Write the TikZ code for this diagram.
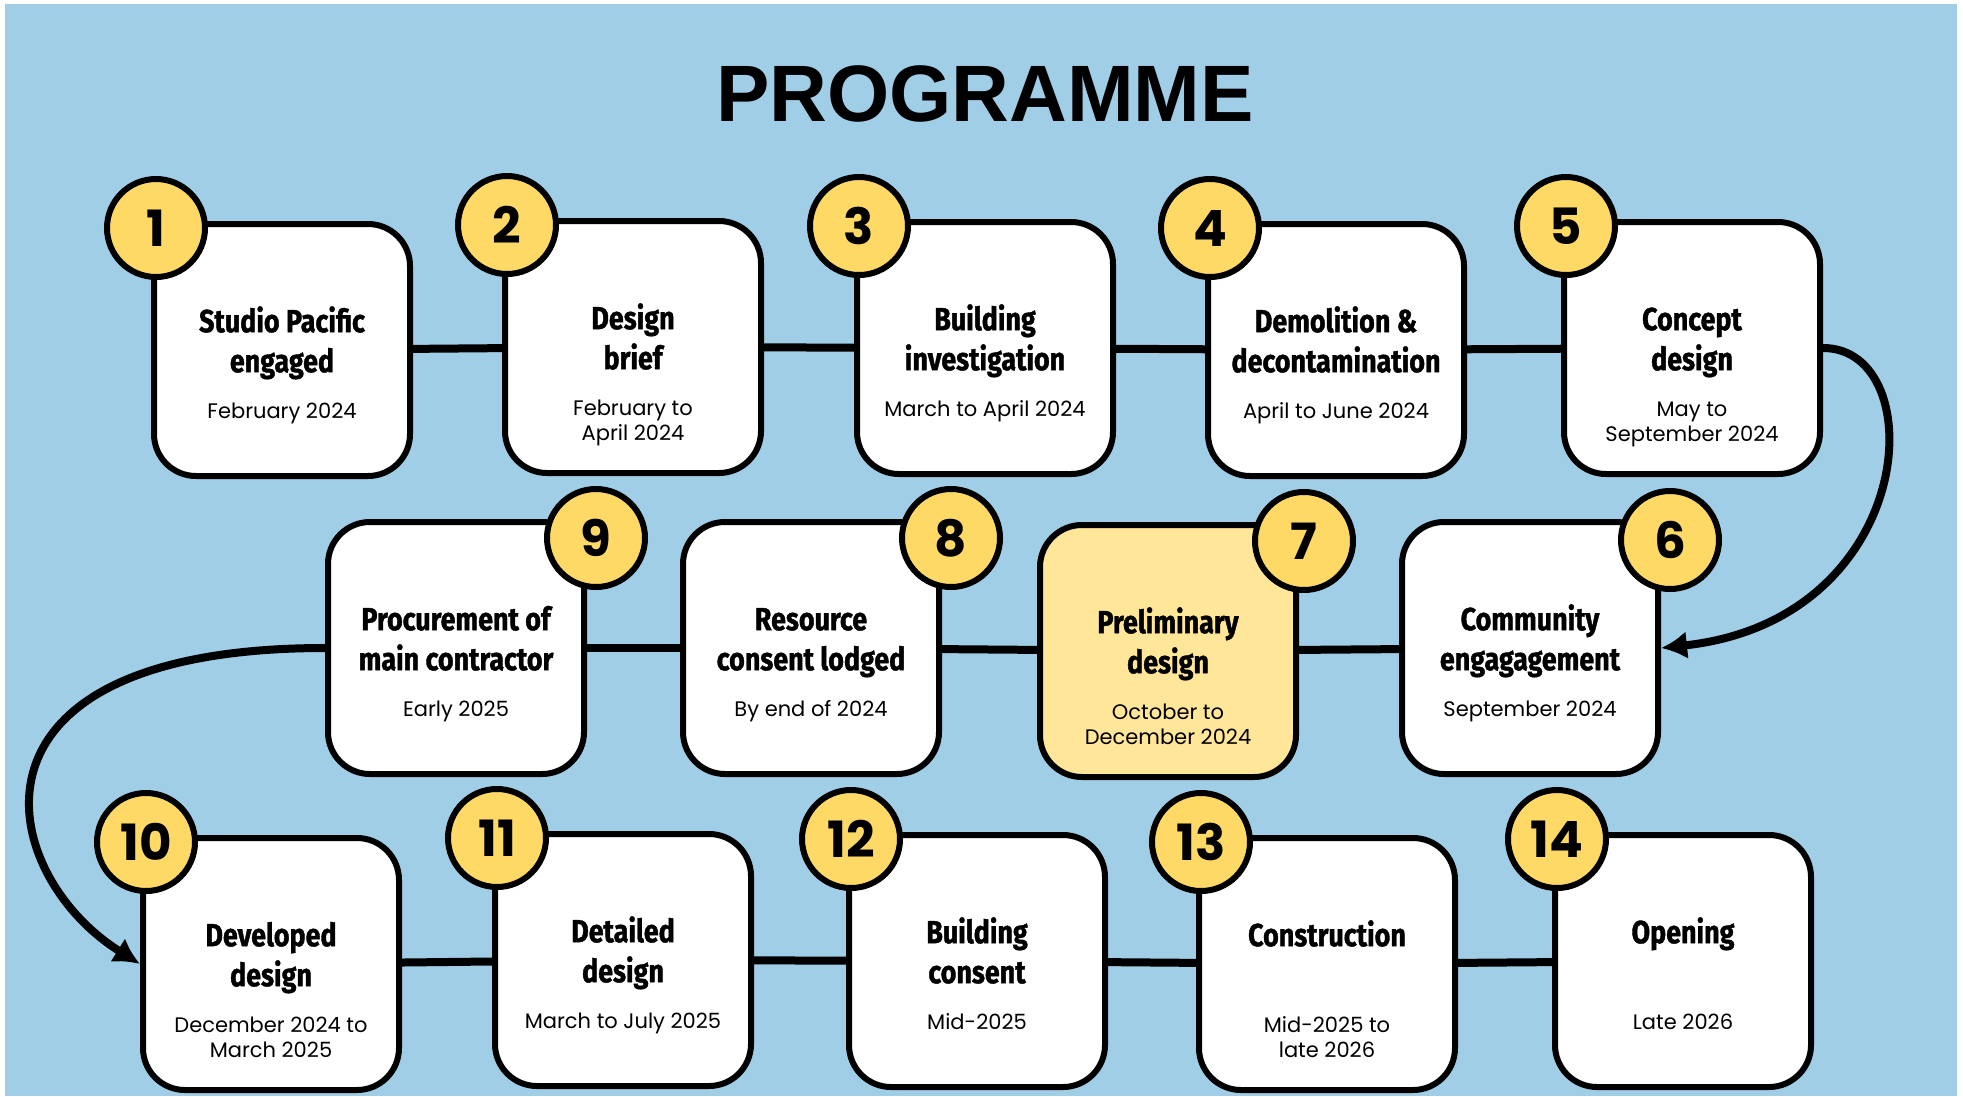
\documentclass[tikz,border=0pt]{standalone}
\usepackage{fontspec}
\setmainfont{Poppins}
\newfontfamily\titlefont{Liberation Sans}
\newfontfamily\headfont[FakeStretch=0.84, FakeBold=1.2]{Fira Sans}
\usetikzlibrary{calc, positioning, arrows.meta}

\definecolor{bgBlue}{HTML}{9FCEE6}
\definecolor{badgeYellow}{HTML}{FED966}
\definecolor{paleYellow}{HTML}{FFE699}

\tikzset{
    stagebox/.style={draw=black, line width=6pt, rounded corners=42pt,
        minimum width=256pt, minimum height=252pt, inner sep=0pt},
    badge/.style={circle, draw=black, line width=6pt, fill=badgeYellow,
        minimum size=98pt, inner sep=0pt, font=\fontsize{50}{50}\selectfont\bfseries},
    headtext/.style={align=center, inner sep=0pt,
        font=\headfont\bfseries\fontsize{32}{40}\selectfont},
    datetext/.style={align=center, inner sep=0pt, font=\fontsize{21}{25}\selectfont},
    link/.style={line width=8pt},
    flow/.style={line width=8pt, -{Latex[length=26pt, width=28pt]}}
}

\begin{document}
\begin{tikzpicture}[x=1pt, y=-1pt]
    % Page and background
    \useasboundingbox (0,0) rectangle (1963,1096);
    \fill[bgBlue] (5,4) rectangle (1957,1096);

    % Title
    \node[font=\titlefont\bfseries\fontsize{80}{80}\selectfont] (title) at (985,94) {PROGRAMME};

    % Stages: number / centre / fill / badge corner and offset / heading / date
    \foreach \n/\x/\y/\boxfill/\corner/\dx/\dy/\head/\date in {
        1/282/350/white/north west/5/7/{Studio Pacific\\engaged}/{February 2024},
        2/633/347/white/north west/5/7/{Design\\brief}/{February to\\April 2024},
        3/985/348/white/north west/5/7/{Building\\investigation}/{March to April 2024},
        4/1336/350/white/north west/5/7/{Demolition \&\\decontamination}/{April to June 2024},
        5/1692/348/white/north west/5/7/{Concept\\design}/{May to\\September 2024},
        9/456/648/white/north east/9/19/{Procurement of\\main contractor}/{Early 2025},
        8/811/648/white/north east/9/19/{Resource\\consent lodged}/{By end of 2024},
        7/1168/651/paleYellow/north east/5/19/{Preliminary\\design}/{October to\\December 2024},
        6/1530/648/white/north east/9/21/{Community\\engagagement}/{September 2024},
        10/271/964/white/north west/6/7/{Developed\\design}/{December 2024 to\\March 2025},
        11/623/960/white/north west/5/7/{Detailed\\design}/{March to July 2025},
        12/977/961/white/north west/5/7/{Building\\consent}/{Mid-2025},
        13/1327/964/white/north west/5/7/{Construction}/{Mid-2025 to\\late 2026},
        14/1683/961/white/north west/5/7/{Opening}/{Late 2026}}
    {
        \node[stagebox, fill=\boxfill] (b\n) at (\x,\y) {};
        \node[headtext, below=83pt of b\n.north] (h\n) {\strut\head};
        \node[datetext, below=180pt of b\n.north] (d\n) {\strut\date};
        \node[badge] (c\n) at ($(b\n.\corner)+(\dx,\dy)$) {\n};
    }

    % Links within each row
    \foreach \a/\b in {1/2, 2/3, 3/4, 4/5, 9/8, 8/7, 7/6, 10/11, 11/12, 12/13, 13/14}
        \draw[link] (b\a) -- (b\b);

    % Turns between rows
    \draw[flow] (b5.east) .. controls +(110,0) and +(258,-28) .. (b6.east);
    \draw[flow] (b9.west) .. controls +(-380,0) and +(-144,-90) .. (b10.west);
\end{tikzpicture}
\end{document}
